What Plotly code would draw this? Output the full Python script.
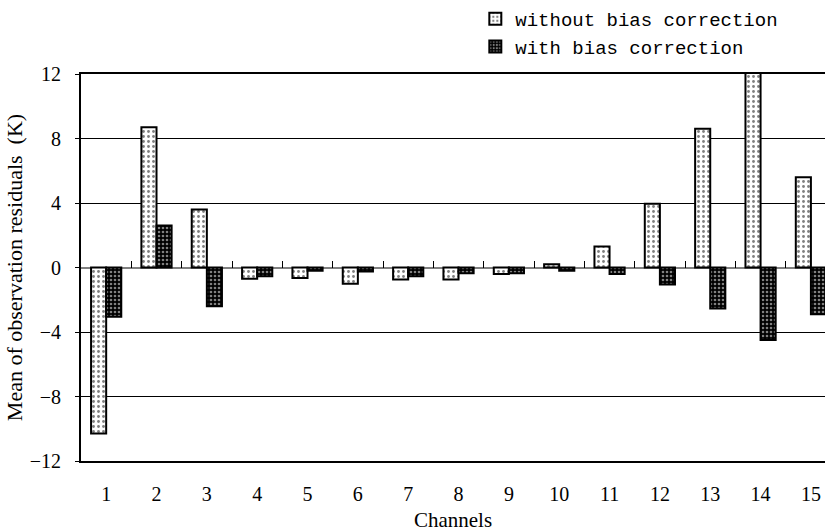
import plotly.graph_objects as go

channels = list(range(1, 16))
without_bias = [-10.3, 8.7, 3.6, -0.7, -0.65, -1.0, -0.75, -0.75, -0.4, 0.2, 1.3, 3.95, 8.6, 12.25, 5.6]
with_bias = [-3.05, 2.6, -2.4, -0.55, -0.2, -0.25, -0.55, -0.35, -0.35, -0.2, -0.4, -1.05, -2.55, -4.5, -2.9]
y_ticks = [-12, -8, -4, 0, 4, 8, 12]
boundaries = [c + 0.5 for c in channels[:-1]]

serif = "Liberation Serif"
mono = "Liberation Mono"

fig = go.Figure()
fig.add_trace(go.Bar(
    x=channels, y=without_bias, name="without bias correction",
    legendgroup="a", cliponaxis=False,
    marker=dict(color="white", line=dict(color="black", width=2),
                pattern=dict(shape=".", fgcolor="black", bgcolor="white", size=5, solidity=0.25)),
))
fig.add_trace(go.Bar(
    x=channels, y=with_bias, name="with bias correction",
    legendgroup="b", cliponaxis=False,
    marker=dict(color="black", line=dict(color="black", width=2),
                pattern=dict(shape=".", fgcolor="white", bgcolor="black", size=4, solidity=0.35)),
))
fig.add_trace(go.Scatter(x=[], y=[], xaxis="x2", showlegend=False, hoverinfo="skip"))

fig.update_layout(
    width=825, height=532,
    margin=dict(l=81, r=0, t=73, b=71),
    paper_bgcolor="white", plot_bgcolor="white",
    barmode="group", bargap=0.4, bargroupgap=0,
    font=dict(family=serif, size=20, color="black"),
    legend=dict(x=0.53, y=1.19, xanchor="left", yanchor="top",
                font=dict(family=mono, size=19, color="black"),
                traceorder="grouped", tracegroupgap=0,
                bgcolor="rgba(0,0,0,0)", itemwidth=30),
    xaxis=dict(range=[0.5, 15.28], tickvals=channels, ticks="", showgrid=False,
               showline=True, mirror=True, linecolor="black", linewidth=2,
               ticklabelstandoff=14, tickfont=dict(family=serif, size=20),
               automargin=False,
               title=dict(text="Channels", font=dict(family=serif, size=21), standoff=13),
               zeroline=False),
    xaxis2=dict(range=[0.5, 15.28], overlaying="x", anchor="free", position=0.5,
                side="bottom", tickvals=boundaries, ticks="inside", ticklen=7,
                tickcolor="black", tickwidth=1, showticklabels=False,
                showline=False, showgrid=False, zeroline=False, automargin=False),
    yaxis=dict(range=[-12, 12], tickvals=y_ticks, ticks="outside", ticklen=4,
               tickcolor="black", tickwidth=1,
               showline=True, linecolor="black", linewidth=2,
               showgrid=True, gridcolor="black", gridwidth=1,
               zeroline=True, zerolinecolor="#808080", zerolinewidth=2,
               ticklabelstandoff=10, tickfont=dict(family=serif, size=20),
               automargin=False,
               title=dict(text="Mean of observation residuals\u00a0 (K)",
                          font=dict(family=serif, size=22), standoff=1)),
)

fig.write_html("out.html", config={"displayModeBar": False},
               post_script="document.body.style.margin='0';")
